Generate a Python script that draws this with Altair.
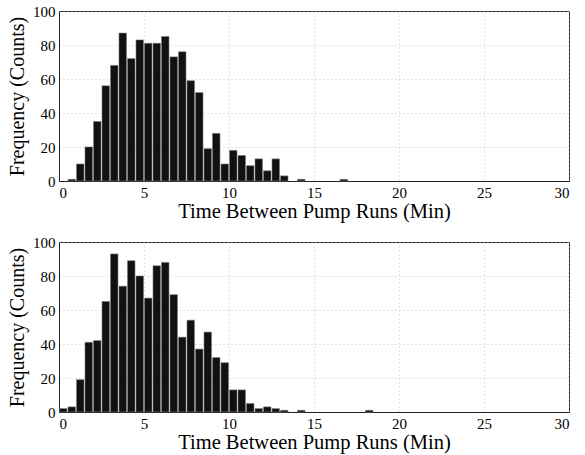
import altair as alt
import pandas as pd

# Bin left edges (minutes) and counts, bin width 0.5 min
top_left = [0.5, 1.0, 1.5, 2.0, 2.5, 3.0, 3.5, 4.0, 4.5, 5.0, 5.5, 6.0, 6.5, 7.0,
            7.5, 8.0, 8.5, 9.0, 9.5, 10.0, 10.5, 11.0, 11.5, 12.0, 12.5, 13.0,
            14.0, 16.5]
top_count = [1, 10, 20, 35, 56, 68, 87, 72, 83, 81, 81, 85, 73, 76,
             59, 52, 19, 28, 10, 18, 15, 9, 13, 6, 13, 3,
             1, 1]

bot_left = [0.0, 0.5, 1.0, 1.5, 2.0, 2.5, 3.0, 3.5, 4.0, 4.5, 5.0, 5.5, 6.0, 6.5,
            7.0, 7.5, 8.0, 8.5, 9.0, 9.5, 10.0, 10.5, 11.0, 11.5, 12.0, 12.5,
            13.0, 14.0, 18.0]
bot_count = [2, 3, 19, 41, 42, 65, 93, 74, 89, 80, 67, 86, 88, 69,
             44, 54, 37, 47, 32, 29, 13, 13, 5, 2, 3, 2,
             1, 1, 1]

x_ticks = [0, 5, 10, 15, 20, 25, 30]
y_ticks = [0, 20, 40, 60, 80, 100]
x_title = "Time Between Pump Runs (Min)"
y_title = "Frequency (Counts)"
bin_width = 0.5


def panel(left, count):
    df = pd.DataFrame({"left": left, "count": count})
    return (
        alt.Chart(df)
        .transform_calculate(
            x1=f"datum.left + {bin_width} * 0.06",
            x2=f"datum.left + {bin_width} * 0.94",
        )
        .mark_rect(color="#111111", stroke="#777777", strokeWidth=0.6)
        .encode(
            x=alt.X("x1:Q", scale=alt.Scale(domain=[0, 30], nice=False, zero=False),
                    axis=alt.Axis(values=x_ticks, title=x_title)),
            x2="x2:Q",
            y=alt.Y("count:Q", scale=alt.Scale(domain=[0, 100], nice=False),
                    axis=alt.Axis(values=y_ticks, title=y_title)),
            y2=alt.datum(0),
        )
        .properties(width=510, height=170)
    )


chart = (
    alt.vconcat(panel(top_left, top_count), panel(bot_left, bot_count), spacing=12)
    .properties(padding={"left": 7, "top": 3, "right": 13, "bottom": 2},
                background="white")
    .configure_view(stroke="#222222", strokeWidth=1)
    .configure_axis(
        labelFont="Liberation Serif", labelFontSize=15, labelColor="black",
        titleFont="Liberation Serif", titleFontWeight="normal",
        titleColor="black", domainColor="#222222", tickSize=0, labelPadding=4,
        gridColor="#b5b5b5", gridDash=[1, 3], gridWidth=0.8,
    )
    .configure_axisX(titlePadding=1, labelPadding=4, titleFontSize=20.5)
    .configure_axisY(titlePadding=5, titleFontSize=20)
)

chart.save("out.html", embed_options={"renderer": "svg", "actions": False})
